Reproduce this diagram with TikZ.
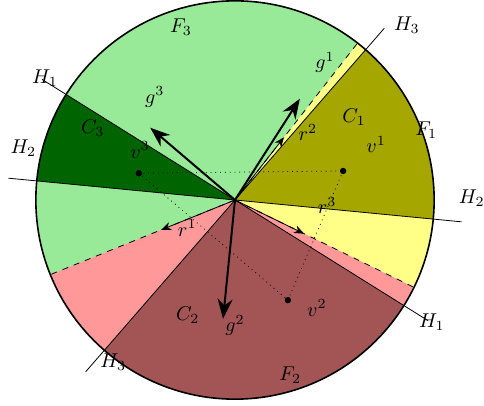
\documentclass[tikz,border=0pt]{standalone}
\usepackage{amsmath,amssymb}
\usepackage{xcolor}
\usepackage{tikz}
\usetikzlibrary{arrows.meta}
\definecolor{faceyel}{HTML}{FFFF88}
\definecolor{coneolive}{HTML}{A6A600}
\definecolor{facegrn}{HTML}{98EA98}
\definecolor{conegrn}{HTML}{006400}
\definecolor{facered}{HTML}{FF9999}
\definecolor{conered}{HTML}{A35555}

\begin{document}
\begin{tikzpicture}[every node/.style={font=\normalsize},
    gvec/.style={line width=1pt, -{Stealth[length=10pt,width=7.5pt]}},
    rvec/.style={-{Stealth[length=5pt,width=4pt]}}]
      \useasboundingbox (-4.13,-3.62) rectangle (4.376,3.515);
      \coordinate (O) at (0,0);
      \fill[faceyel] (O) -- (-26:3.5) arc[start angle=-26, end angle=52, radius=3.5] -- cycle;
      \fill[facegrn] (O) -- (52:3.5) arc[start angle=52, end angle=202, radius=3.5] -- cycle;
      \fill[facered] (O) -- (202:3.5) arc[start angle=202, end angle=334, radius=3.5] -- cycle;
      \fill[coneolive] (O) -- (-5.5:3.5) arc[start angle=-5.5, end angle=49, radius=3.5] -- cycle;
      \fill[conegrn] (O) -- (148:3.5) arc[start angle=148, end angle=174.5, radius=3.5] -- cycle;
      \fill[conered] (O) -- (229:3.5) arc[start angle=229, end angle=328, radius=3.5] -- cycle;
      \foreach \a in {148,174.5,49} \draw (\a:4) -- (\a+180:4);
      \foreach \a in {52,202,-26} \draw[dashed] (O) -- (\a:3.5);
      \draw[thick] (O) circle (3.5);
      \coordinate (v1) at (1.90,0.51);
      \coordinate (v2) at (0.93,-1.76);
      \coordinate (v3) at (-1.69,0.47);
      \draw[dotted] (v1) -- (v2) -- (v3) -- cycle;
      \foreach \p in {v1,v2,v3} \fill (\p) circle (1.6pt);
      \coordinate (g1) at (1.14,1.78);
      \coordinate (g2) at (-0.21,-2.09);
      \coordinate (g3) at (-1.49,1.27);
      \draw[gvec] (O) -- (g1); \draw[gvec] (O) -- (g2); \draw[gvec] (O) -- (g3);
      \coordinate (r1) at (202:1.4);
      \coordinate (r2) at (52:1.4);
      \coordinate (r3) at (-26:1.35);
      \draw[rvec] (O) -- (r1); \draw[rvec] (O) -- (r2); \draw[rvec] (O) -- (r3);
      \node (lF1) at (3.36,1.23) {$F_1$};
      \node (lF2) at (0.97,-3.08) {$F_2$};
      \node (lF3) at (-0.95,3.04) {$F_3$};
      \node (lC1) at (2.09,1.46) {$C_1$};
      \node (lC2) at (-0.83,-2.02) {$C_2$};
      \node (lC3) at (-2.50,1.27) {$C_3$};
      \node (lv1) at (2.48,0.97) {$v^1$};
      \node (lv2) at (1.44,-1.90) {$v^2$};
      \node (lv3) at (-1.67,0.88) {$v^3$};
      \node (lg1) at (1.58,2.42) {$g^1$};
      \node (lg2) at (0,-2.2) {$g^2$};
      \node (lg3) at (-1.41,1.81) {$g^3$};
      \node (lr1) at (-0.84,-0.49) {$r^1$};
      \node (lr2) at (1.28,1.19) {$r^2$};
      \node (lr3) at (1.62,-0.09) {$r^3$};
      \node (lH1a) at (-3.34,2.14) {$H_1$};
      \node (lH1b) at (3.46,-2.14) {$H_1$};
      \node (lH2a) at (-3.72,0.91) {$H_2$};
      \node (lH2b) at (4.16,0.04) {$H_2$};
      \node (lH3a) at (3.02,3.07) {$H_3$};
      \node (lH3b) at (-2.14,-2.85) {$H_3$};
    \end{tikzpicture}
\end{document}
